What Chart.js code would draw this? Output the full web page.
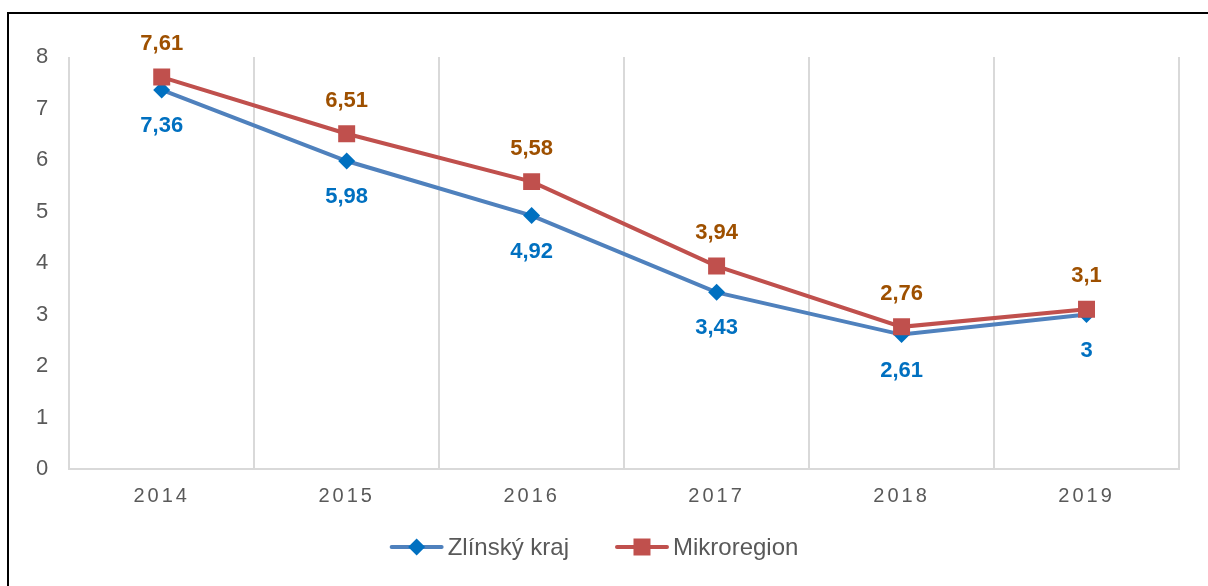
<!DOCTYPE html>
<html>
<head>
<meta charset="utf-8">
<script src="https://cdn.jsdelivr.net/npm/chart.js@4/dist/chart.umd.min.js"></script>
<style>
  html, body { margin: 0; padding: 0; background: #fff; }
  #wrap { position: relative; width: 1208px; height: 586px; overflow: hidden; }
  #frame { position: absolute; left: 7px; top: 12px; width: 1230px; height: 620px; border: 2px solid #000; box-sizing: border-box; }
  #c { position: absolute; left: 0; top: 0; }
</style>
</head>
<body>
<div id="wrap">
  <div id="frame"></div>
  <canvas id="c" width="1208" height="586"></canvas>
</div>
<script>
const years = ['2014', '2015', '2016', '2017', '2018', '2019'];
const zlinskyKraj = [7.36, 5.98, 4.92, 3.43, 2.61, 3];
const mikroregion = [7.61, 6.51, 5.58, 3.94, 2.76, 3.1];
const seriesNames = ['Zlínský kraj', 'Mikroregion'];
const yTicks = [0, 1, 2, 3, 4, 5, 6, 7, 8];

const FONT = "'Liberation Sans', Arial, sans-serif";

const letterSpacingPlugin = {
  id: 'letterSpacing',
  beforeDraw(chart) { chart.ctx.letterSpacing = '3px'; },
  beforeDatasetsDraw(chart) { chart.ctx.letterSpacing = '0px'; }
};

const dataLabelPlugin = {
  id: 'valueLabels',
  afterDatasetsDraw(chart) {
    const ctx = chart.ctx;
    ctx.save();
    ctx.letterSpacing = '0px';
    ctx.font = 'bold 22px ' + FONT;
    ctx.textAlign = 'center';
    ctx.textBaseline = 'middle';
    chart.data.datasets.forEach((ds, i) => {
      const meta = chart.getDatasetMeta(i);
      meta.data.forEach((pt, j) => {
        const txt = String(ds.data[j]).replace('.', ',');
        ctx.fillStyle = ds.labelColor;
        ctx.fillText(txt, pt.x, pt.y + ds.labelOffset);
      });
    });
    ctx.restore();
  }
};

function drawMarker(ctx, style, x, y, color) {
  ctx.fillStyle = color;
  ctx.beginPath();
  if (style === 'rect') {
    ctx.rect(x - 8.5, y - 8.5, 17, 17);
  } else {
    ctx.moveTo(x, y - 8.5); ctx.lineTo(x + 8.5, y); ctx.lineTo(x, y + 8.5); ctx.lineTo(x - 8.5, y);
    ctx.closePath();
  }
  ctx.fill();
}

const legendPlugin = {
  id: 'lineLegend',
  afterDraw(chart) {
    const ctx = chart.ctx;
    ctx.save();
    ctx.letterSpacing = '0px';
    ctx.font = '24px ' + FONT;
    ctx.textBaseline = 'middle';
    ctx.textAlign = 'left';
    const iconW = 54, gap = 4, itemGap = 46;
    const items = chart.data.datasets.slice().sort((a, b) => a.legendIndex - b.legendIndex);
    const widths = items.map(ds => iconW + gap + ctx.measureText(ds.label).width);
    const total = widths.reduce((a, b) => a + b, 0) + itemGap * (items.length - 1);
    let x = chart.width / 2 - 10 - total / 2;
    const y = 547;
    items.forEach((ds, i) => {
      ctx.strokeStyle = ds.borderColor;
      ctx.lineWidth = 4;
      ctx.lineCap = 'round';
      ctx.beginPath();
      ctx.moveTo(x + 2, y); ctx.lineTo(x + iconW - 2, y);
      ctx.stroke();
      drawMarker(ctx, ds.pointStyle, x + iconW / 2, y, ds.pointBackgroundColor);
      ctx.fillStyle = '#595959';
      ctx.fillText(ds.label, x + iconW + gap, y + 1);
      x += widths[i] + itemGap;
    });
    ctx.restore();
  }
};

new Chart(document.getElementById('c'), {
  type: 'line',
  data: {
    labels: years,
    datasets: [
      {
        label: seriesNames[0],
        data: zlinskyKraj,
        borderColor: '#4F81BD',
        backgroundColor: '#0070C0',
        pointBackgroundColor: '#0070C0',
        pointBorderColor: '#0070C0',
        pointBorderWidth: 0,
        pointStyle: 'rectRot',
        pointRadius: 8.5,
        borderWidth: 4,
        tension: 0,
        order: 2,
        legendIndex: 0,
        labelColor: '#0070C0',
        labelOffset: 36
      },
      {
        label: seriesNames[1],
        data: mikroregion,
        borderColor: '#C0504D',
        backgroundColor: '#C0504D',
        pointBackgroundColor: '#C0504D',
        pointBorderColor: '#C0504D',
        pointBorderWidth: 0,
        pointStyle: 'rect',
        pointRadius: 12,
        borderWidth: 4,
        tension: 0,
        order: 1,
        legendIndex: 1,
        labelColor: '#9E5000',
        labelOffset: -33
      }
    ]
  },
  options: {
    responsive: false,
    animation: false,
    layout: { padding: { left: 21, right: 29, top: 57, bottom: 63 } },
    plugins: {
      legend: { display: false },
      tooltip: { enabled: false }
    },
    scales: {
      x: {
        offset: true,
        grid: { display: true, offset: true, color: '#D9D9D9', lineWidth: 2, drawTicks: false },
        border: { display: true, color: '#D9D9D9', width: 2 },
        ticks: { color: '#595959', font: { family: FONT, size: 20 }, padding: 15 }
      },
      y: {
        min: 0,
        max: 8,
        afterBuildTicks(scale) { scale.ticks = yTicks.map(v => ({ value: v })); },
        grid: { display: false, drawTicks: false },
        border: { display: false },
        ticks: { color: '#595959', font: { family: FONT, size: 22 }, padding: 18 }
      }
    }
  },
  plugins: [letterSpacingPlugin, dataLabelPlugin, legendPlugin]
});
</script>
</body>
</html>
